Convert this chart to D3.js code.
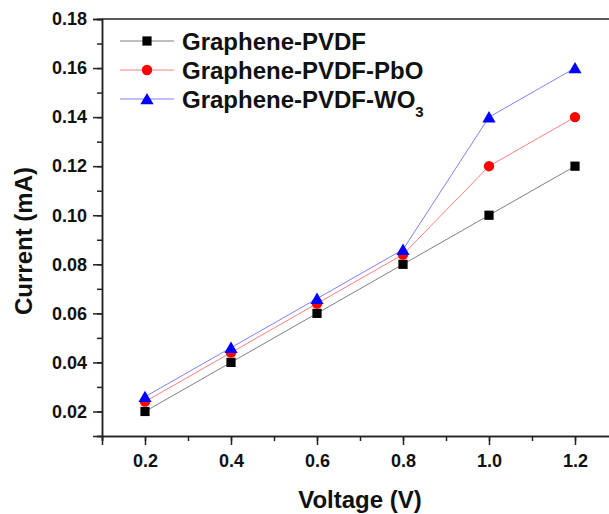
<!DOCTYPE html>
<html><head><meta charset="utf-8">
<script src="https://cdn.jsdelivr.net/npm/d3@7"></script>
<style>body{margin:0;background:#fff}svg{display:block}text{font-family:Arial,"Liberation Sans",sans-serif;font-weight:bold}</style>
</head><body>
<script>
const voltage = [0.2, 0.4, 0.6, 0.8, 1.0, 1.2];
const pvdf = [0.02, 0.04, 0.06, 0.08, 0.10, 0.12];
const pvdfPbO = [0.024, 0.044, 0.064, 0.084, 0.12, 0.14];
const pvdfWO3 = [0.026, 0.046, 0.066, 0.086, 0.14, 0.16];
const xTicks = [0.2, 0.4, 0.6, 0.8, 1.0, 1.2];
const yTicks = [0.02, 0.04, 0.06, 0.08, 0.10, 0.12, 0.14, 0.16, 0.18];
const seriesNames = ["Graphene-PVDF", "Graphene-PVDF-PbO", "Graphene-PVDF-WO"];
const seriesColors = ["#000000", "#ff0000", "#0000ff"];
const seriesData = [pvdf, pvdfPbO, pvdfWO3];
const symbols = [d3.symbolSquare, d3.symbolCircle, d3.symbolTriangle];

const W = 609, H = 514;
const svg = d3.select("body").append("svg").attr("width", W).attr("height", H);
const x = d3.scaleLinear().domain([0.1, 1.3]).range([102, 618]);
const y = d3.scaleLinear().domain([0.01, 0.18]).range([436, 19]);

svg.append("line").attr("x1", 102).attr("x2", W).attr("y1", y(0.18)).attr("y2", y(0.18)).attr("stroke", "#222").attr("stroke-width", 1.5);

const xMinor = d3.range(0.1, 1.31, 0.1).map(v => +v.toFixed(2));
const yMinor = d3.range(0.01, 0.181, 0.01).map(v => +v.toFixed(3));

const gx = svg.append("g").attr("transform", `translate(0,${y(0.01)})`);
gx.call(d3.axisBottom(x).tickValues(xMinor).tickSize(5).tickFormat(""));
gx.call(g => g.append("g").call(d3.axisBottom(x).tickValues(xTicks).tickSize(9).tickFormat(d3.format(".1f"))));
gx.selectAll("path.domain").attr("stroke", "#222").attr("stroke-width", 1.5);
gx.selectAll("line").attr("stroke", "#222").attr("stroke-width", 1.5);
gx.selectAll("text").attr("font-size", 18).attr("fill", "#111").attr("y", 31).attr("dy", 0);

const gy = svg.append("g").attr("transform", "translate(102,0)");
gy.call(d3.axisLeft(y).tickValues(yMinor).tickSize(5).tickFormat(""));
gy.call(g => g.append("g").call(d3.axisLeft(y).tickValues(yTicks).tickSize(9).tickFormat(d3.format(".2f"))));
gy.selectAll("path.domain").attr("stroke", "#222").attr("stroke-width", 1.5);
gy.selectAll("line").attr("stroke", "#222").attr("stroke-width", 1.5);
gy.selectAll("text").attr("font-size", 18).attr("fill", "#111").attr("x", -15);

svg.append("text").attr("x", 360).attr("y", 508).attr("text-anchor", "middle").attr("font-size", 24).attr("fill", "#111").text("Voltage (V)");
svg.append("text").attr("transform", "translate(32,241) rotate(-90)").attr("text-anchor", "middle").attr("font-size", 24).attr("fill", "#111").text("Current (mA)");

const symSize = [85, 85, 75];
const symOffset = [0, 0, 1.5];
const line = d3.line().x((d, i) => x(voltage[i])).y(d => y(d));
seriesData.forEach((data, s) => {
  svg.append("path").datum(data).attr("d", line).attr("fill", "none")
    .attr("stroke", seriesColors[s]).attr("stroke-opacity", 0.5).attr("stroke-width", 1);
});
seriesData.forEach((data, s) => {
  svg.selectAll(null).data(data).enter().append("path")
    .attr("d", d3.symbol().type(symbols[s]).size(symSize[s]))
    .attr("transform", (d, i) => `translate(${x(voltage[i])},${y(d) + symOffset[s]})`)
    .attr("fill", seriesColors[s]);
});

const legY = [41, 70, 99];
seriesNames.forEach((name, s) => {
  const g = svg.append("g").attr("transform", `translate(0,${legY[s]})`);
  g.append("line").attr("x1", 120).attr("x2", 174).attr("stroke", seriesColors[s]).attr("stroke-opacity", 0.5).attr("stroke-width", 1);
  g.append("path").attr("d", d3.symbol().type(symbols[s]).size(symSize[s])).attr("transform", `translate(147,${symOffset[s]})`).attr("fill", seriesColors[s]);
  const t = g.append("text").attr("x", 182).attr("y", 8.5).attr("font-size", 24).attr("fill", "#111").text(name);
  if (s === 2) t.append("tspan").attr("font-size", 15).attr("dy", 9).text("3");
});
</script>
</body></html>
